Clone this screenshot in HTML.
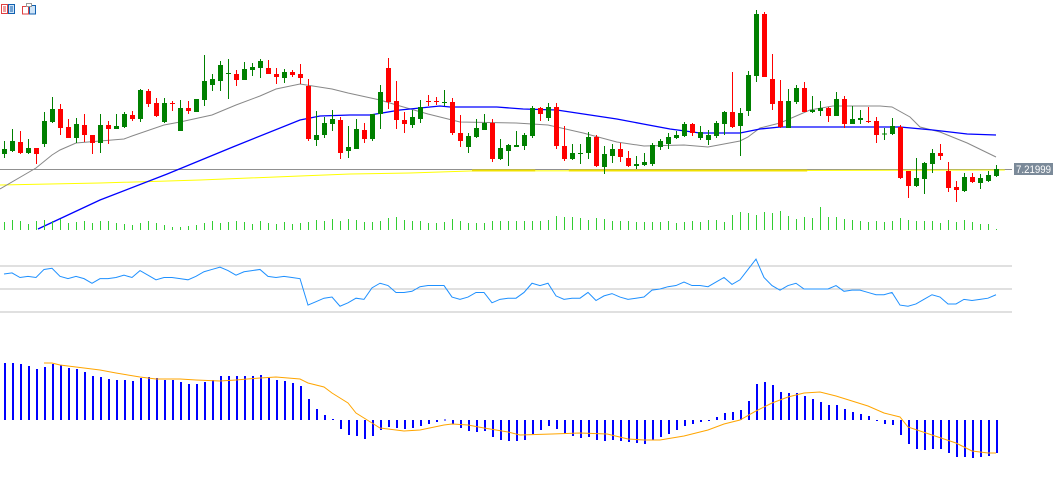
<!DOCTYPE html>
<html><head><meta charset="utf-8"><style>
html,body{margin:0;padding:0;background:#fff;}
svg{display:block;font-family:"Liberation Sans",sans-serif;}
</style></head><body>
<svg id="chart" width="1061" height="480" viewBox="0 0 1061 480" xmlns="http://www.w3.org/2000/svg">
  <g>
    <g>
      <rect x="1.5" y="4.5" width="6" height="9" fill="#fff" stroke="#e04040"/>
      <rect x="8.5" y="4.5" width="6" height="9" fill="#cfe4f7" stroke="#1060b0"/>
      <line x1="3" y1="7" x2="6" y2="7" stroke="#e04040"/><line x1="3" y1="9" x2="6" y2="9" stroke="#e04040"/><line x1="3" y1="11" x2="6" y2="11" stroke="#e04040"/>
      <line x1="10" y1="7" x2="13" y2="7" stroke="#1060b0"/><line x1="10" y1="9" x2="13" y2="9" stroke="#1060b0"/><line x1="10" y1="11" x2="13" y2="11" stroke="#1060b0"/>
    </g>
    <g>
      <rect x="22.5" y="6.5" width="6" height="7.5" fill="#fff" stroke="#e04040"/>
      <rect x="29.5" y="5.5" width="6" height="8.5" fill="#cfe4f7" stroke="#1060b0"/>
      <rect x="26.5" y="3.5" width="5" height="3" fill="#fff" stroke="#999"/>
    </g>
  </g>
  <g id="main"></g>
  <g id="vol"></g>
  <g id="rsi"></g>
  <g id="macd"></g>
</svg>
<script>
const opens=[7.236,7.239,7.248,7.237,7.242,7.246,7.268,7.281,7.263,7.252,7.265,7.255,7.247,7.265,7.261,7.263,7.275,7.271,7.299,7.287,7.268,7.287,7.259,7.282,7.278,7.290,7.305,7.309,7.316,7.316,7.310,7.320,7.322,7.322,7.316,7.312,7.318,7.316,7.304,7.250,7.255,7.266,7.270,7.239,7.241,7.260,7.251,7.276,7.322,7.289,7.270,7.265,7.271,7.289,7.289,7.287,7.288,7.257,7.243,7.253,7.260,7.267,7.231,7.239,7.243,7.244,7.254,7.282,7.272,7.283,7.244,7.231,7.236,7.237,7.253,7.223,7.234,7.241,7.232,7.224,7.225,7.226,7.243,7.246,7.252,7.254,7.266,7.252,7.250,7.254,7.266,7.278,7.264,7.279,7.314,7.376,7.311,7.289,7.262,7.288,7.302,7.278,7.279,7.282,7.274,7.291,7.266,7.270,7.269,7.269,7.256,7.256,7.263,7.219,7.204,7.211,7.226,7.237,7.219,7.203,7.199,7.213,7.207,7.209,7.214];
const highs=[7.249,7.261,7.259,7.251,7.242,7.278,7.293,7.286,7.271,7.272,7.276,7.255,7.276,7.269,7.276,7.278,7.279,7.301,7.301,7.292,7.292,7.289,7.290,7.289,7.291,7.335,7.316,7.329,7.331,7.320,7.328,7.327,7.331,7.330,7.322,7.321,7.320,7.326,7.311,7.279,7.273,7.280,7.273,7.264,7.271,7.267,7.276,7.305,7.332,7.309,7.278,7.280,7.290,7.295,7.293,7.300,7.292,7.275,7.257,7.271,7.276,7.271,7.251,7.246,7.259,7.257,7.284,7.283,7.287,7.287,7.264,7.246,7.246,7.258,7.255,7.244,7.246,7.247,7.239,7.234,7.237,7.247,7.251,7.257,7.259,7.268,7.267,7.264,7.260,7.269,7.279,7.318,7.282,7.319,7.380,7.378,7.336,7.310,7.301,7.305,7.308,7.294,7.289,7.283,7.298,7.294,7.284,7.280,7.283,7.273,7.262,7.272,7.265,7.219,7.232,7.228,7.241,7.246,7.228,7.209,7.217,7.217,7.216,7.219,7.225];
const lows=[7.232,7.238,7.236,7.236,7.226,7.243,7.267,7.255,7.252,7.247,7.248,7.236,7.237,7.246,7.261,7.262,7.269,7.268,7.283,7.273,7.267,7.279,7.259,7.276,7.278,7.284,7.299,7.299,7.291,7.304,7.310,7.314,7.312,7.316,7.306,7.307,7.313,7.306,7.249,7.244,7.252,7.259,7.231,7.232,7.241,7.247,7.249,7.261,7.281,7.261,7.257,7.262,7.267,7.284,7.285,7.284,7.255,7.243,7.237,7.252,7.260,7.228,7.230,7.224,7.243,7.240,7.252,7.269,7.269,7.241,7.229,7.230,7.226,7.231,7.223,7.216,7.227,7.228,7.223,7.221,7.224,7.224,7.240,7.241,7.251,7.253,7.254,7.250,7.245,7.252,7.255,7.262,7.234,7.274,7.308,7.313,7.280,7.262,7.262,7.286,7.278,7.277,7.274,7.268,7.274,7.262,7.266,7.266,7.267,7.247,7.250,7.255,7.211,7.192,7.203,7.196,7.217,7.230,7.198,7.188,7.198,7.207,7.201,7.208,7.213];
const closes=[7.241,7.249,7.237,7.242,7.236,7.269,7.281,7.262,7.252,7.266,7.255,7.247,7.265,7.261,7.264,7.276,7.271,7.300,7.286,7.274,7.287,7.286,7.282,7.279,7.291,7.309,7.311,7.325,7.317,7.310,7.321,7.323,7.329,7.316,7.313,7.318,7.315,7.312,7.251,7.255,7.267,7.271,7.237,7.243,7.261,7.251,7.276,7.298,7.288,7.270,7.266,7.273,7.283,7.288,7.288,7.288,7.257,7.249,7.254,7.262,7.267,7.231,7.242,7.245,7.245,7.255,7.282,7.276,7.283,7.244,7.231,7.237,7.237,7.253,7.224,7.236,7.241,7.233,7.224,7.226,7.228,7.245,7.249,7.253,7.255,7.266,7.257,7.258,7.255,7.267,7.278,7.263,7.277,7.315,7.376,7.313,7.286,7.263,7.289,7.302,7.278,7.280,7.282,7.274,7.291,7.266,7.271,7.272,7.268,7.255,7.2565,7.264,7.212,7.204,7.212,7.227,7.237,7.234,7.202,7.200,7.213,7.208,7.212,7.215,7.221];
const volumes=[8,10,9,6,9,10,9,11,7,8,9,7,9,9,7,6,5,7,9,7,5,3,3,4,5,7,9,7,8,9,8,6,9,7,6,8,6,7,8,10,9,11,9,11,10,8,8,9,12,13,10,9,9,7,7,8,11,9,7,7,7,9,9,9,9,9,9,9,10,14,13,13,12,10,12,11,9,9,9,8,8,8,8,9,7,8,9,8,10,10,8,15,18,17,15,18,17,19,14,11,13,12,23,13,13,11,10,9,8,9,8,9,12,10,9,9,9,7,10,8,10,8,6,6,1];
const rsiValues=[63,64,60,61,60,67,68,61,59,61,59,55,59,59,60,62,60,66,62,58,60,60,59,58,61,65,67,69,66,62,65,66,67,61,60,61,60,59,36,39,42,43,35,38,42,41,51,55,53,47,47,48,52,53,53,53,43,41,43,47,47,38,41,42,42,47,55,53,55,44,41,42,42,47,40,44,46,43,41,42,43,49,50,52,53,56,53,53,52,56,60,54,58,67,76,60,53,49,53,55,50,50,50,50,53,48,49,49,47,45,45,47,36,35,37,41,45,43,37,37,41,40,41,42,45];
const rsiLevels=[70,50,30];
const macdHist=[57,57,56,54,51,53,56,55,52,51,48,44,43,41,40,40,39,42,43,42,40,40,38,36,36,38,40,44,44,44,44,44,45,42,40,39,37,34,21,11,5,1,-9,-15,-16,-19,-16,-10,-7,-8,-9,-8,-6,-4,-2,0.5,-4,-8,-11,-12,-11,-17,-20,-21,-21,-20,-14,-10,-6,-9,-14,-16,-18,-17,-20,-21,-20,-21,-22,-23,-24,-20,-17,-14,-10,-6,-4,-2,0,3,7,8,10,19,36,38,35,28,27,27,24,21,18,15,15,11,8,6,4,0,-4,-5,-15,-24,-29,-30,-29,-29,-33,-37,-37,-38,-37,-36,-33];
const signalIdx=[5,6,7,9,12,14,17,19,22,24,27,29,32,34,37,38,40,41,43,44,46,47,50,52,55,56,58,60,63,64.5,68.5,72,75.4,78,80,82,85,88,90,92,94,96,98,100,102,104,106,108,110,112,113,116,119,121,123,124];
const signalVal=[57,57,55,53,50,47,43,41,41,40,39,40,42,43,41,37,33,27,17,7,-3,-8,-11,-10,-5,-4,-5,-8,-12,-15,-14,-13,-14,-19,-20,-20,-16,-10,-4,0,9,17,23,27,28,24,19,14,7,3,-7,-15,-23,-31,-33,-33];
const maSlowIdx=[-0.5,4,6,7,9,12,15,16,20,22,26,29,32,34,37,41,43,47,49.5,53,57,64,68,72.4,76.6,80,85,88,92,93,94.5,97,100.75,103.6,109.5,111,113.25,114.5,117,120.4,124];
const maSlowVal=[7.201,7.222,7.235,7.240,7.247,7.249,7.251,7.254,7.265,7.268,7.275,7.285,7.294,7.301,7.306,7.301,7.297,7.290,7.284,7.276,7.268,7.267,7.265,7.257,7.248,7.244,7.245,7.243,7.249,7.253,7.262,7.267,7.280,7.284,7.284,7.283,7.273,7.263,7.258,7.247,7.233];
const maBlueIdx=[4.25,12,20.4,28.6,37,39.5,43.25,45.75,49.5,54.5,55.75,61.6,64.9,69.1,71.6,74.1,76.6,79.9,83.25,87,92,94.5,97,104.5,112,116.1,120.4,124];
const maBlueVal=[7.161,7.190,7.216,7.243,7.270,7.274,7.275,7.275,7.280,7.284,7.283,7.283,7.281,7.280,7.277,7.274,7.271,7.266,7.261,7.257,7.257,7.261,7.263,7.263,7.263,7.260,7.256,7.255];
const yellowIdx=[-0.5,12,24.5,37,43.25,50.75,58.25,125.1];
const yellowVal=[7.205,7.207,7.210,7.214,7.216,7.217,7.219,7.220];
const yellowThickFrom=[58.5,70.6];
const yellowThickTo=[66.4,100.4];
const lastPrice=7.21999;

const NS='http://www.w3.org/2000/svg';
function xAt(i){return 4+8*i;}
function yPrice(p){return (7.390-p)*1000;}
function yVol(v){return 230-v;}
function yRsi(v){return 289-(v-50)*1.15;}
function yMacd(v){return 420-v;}
function mk(parent,tag,attrs){const e=document.createElementNS(NS,tag);for(const k in attrs)e.setAttribute(k,attrs[k]);parent.appendChild(e);return e;}

const main=document.getElementById('main');
let hl=mk(main,'line',{x1:0,x2:1012,y1:yPrice(lastPrice)-0.5,y2:yPrice(lastPrice)-0.5,stroke:'#909090','stroke-width':1});


let yp=mk(main,'polyline',{points:yellowIdx.map((v,k)=>xAt(v)+','+yPrice(yellowVal[k])).join(' '),fill:'none',stroke:'#ffff00','stroke-width':1});


for(let k=0;k<yellowThickFrom.length;k++){
  let t=mk(main,'line',{x1:xAt(yellowThickFrom[k]),x2:xAt(yellowThickTo[k]),y1:yPrice(7.220)+0.5,y2:yPrice(7.220)+0.5,stroke:'#f0e000','stroke-width':2});
  
  
}
let gm=mk(main,'polyline',{points:maSlowIdx.map((v,k)=>xAt(v)+','+yPrice(maSlowVal[k])).join(' '),fill:'none',stroke:'#888888','stroke-width':1});


let bm=mk(main,'polyline',{points:maBlueIdx.map((v,k)=>xAt(v)+','+yPrice(maBlueVal[k])).join(' '),fill:'none',stroke:'#0000ff','stroke-width':1.3});


for(let i=0;i<opens.length;i++){
  const up=closes[i]>=opens[i];
  const col=up?'#008000':'#ff0000';
  const x=xAt(i);
  const g=mk(main,'g',{});
  
  
  mk(g,'line',{x1:x+0.5,x2:x+0.5,y1:yPrice(highs[i]),y2:yPrice(lows[i]),stroke:col,'stroke-width':1});
  const t=Math.min(yPrice(opens[i]),yPrice(closes[i]));
  const h=Math.max(1,Math.abs(yPrice(opens[i])-yPrice(closes[i])));
  mk(g,'rect',{x:x-2,y:t,width:5,height:h,fill:col});
}
let lb=mk(main,'rect',{x:1014,y:163,width:39,height:12,fill:'#7b8a99'});


let lt=mk(main,'text',{x:1016,y:173,'font-size':11,fill:'#fff',textLength:35,lengthAdjust:'spacingAndGlyphs'});
lt.textContent=lastPrice.toFixed(5);



const vol=document.getElementById('vol');
for(let i=0;i<volumes.length;i++){
  const r=mk(vol,'rect',{x:xAt(i),y:yVol(volumes[i]),width:1,height:volumes[i],fill:'#32cd32'});
  
  
}

const rsi=document.getElementById('rsi');
rsiLevels.forEach(l=>{
  const e=mk(rsi,'line',{x1:0,x2:1012,y1:yRsi(l),y2:yRsi(l),stroke:'#c0c0c0','stroke-width':1});
  
  
});
let rl=mk(rsi,'polyline',{points:rsiValues.map((v,i)=>xAt(i)+','+yRsi(v)).join(' '),fill:'none',stroke:'#1e90ff','stroke-width':1});



const macd=document.getElementById('macd');
for(let i=0;i<macdHist.length;i++){
  const v=macdHist[i];
  const y0=yMacd(Math.max(v,0)), y1=yMacd(Math.min(v,0));
  const r=mk(macd,'rect',{x:xAt(i),y:y0,width:2,height:Math.max(1,y1-y0),fill:'#0000ff'});
  
  
}
let sl=mk(macd,'polyline',{points:signalIdx.map((v,k)=>xAt(v)+','+yMacd(signalVal[k])).join(' '),fill:'none',stroke:'#ffa500','stroke-width':1});


</script>
</body></html>
